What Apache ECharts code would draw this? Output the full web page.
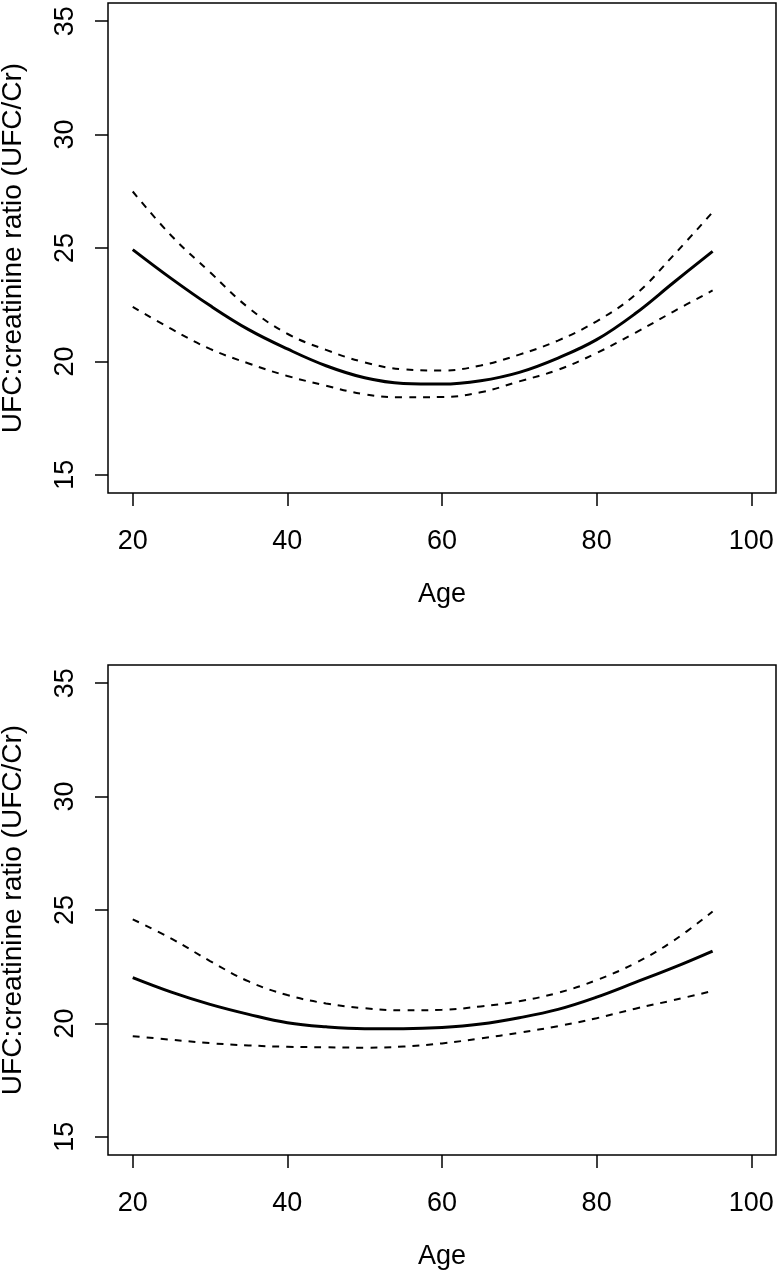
<!DOCTYPE html>
<html>
<head>
<meta charset="utf-8">
<script src="https://cdn.jsdelivr.net/npm/echarts@6/dist/echarts.min.js"></script>
<style>
html,body{margin:0;padding:0;background:#fff;}
#chart{width:780px;height:1273px;}
</style>
</head>
<body>
<div id="chart"></div>
<script>
// Data
const ages = [20,25,30,35,40,45,50,55,60,65,70,75,80,85,90,95];

const topFit   = [24.93,23.65,22.46,21.40,20.55,19.81,19.28,19.03,19.00,19.15,19.52,20.15,20.96,22.11,23.49,24.85];
const topUpper = [27.49,25.54,23.93,22.36,21.22,20.51,19.96,19.65,19.60,19.82,20.30,20.92,21.77,22.94,24.70,26.58];
const topLower = [22.40,21.43,20.55,19.91,19.36,18.93,18.55,18.42,18.43,18.64,19.12,19.63,20.37,21.26,22.21,23.13];

const botFit   = [22.02,21.38,20.84,20.40,20.03,19.85,19.77,19.77,19.82,19.97,20.25,20.62,21.16,21.81,22.47,23.19];
const botUpper = [24.59,23.74,22.75,21.85,21.25,20.88,20.67,20.58,20.60,20.75,20.98,21.35,21.91,22.66,23.66,24.93];
const botLower = [19.44,19.28,19.13,19.03,18.97,18.95,18.93,18.98,19.12,19.34,19.59,19.88,20.23,20.65,21.03,21.43];

const xTicks = [20,40,60,80,100];
const yTicks = [15,20,25,30,35];
const xTitle = 'Age';
const yTitle = 'UFC:creatinine ratio (UFC/Cr)';

const FONT = "'Liberation Sans', Arial, Helvetica, sans-serif";
const FS = 27;

function pairs(xs, ys){ return xs.map((x,i)=>[x, ys[i]]); }

function xAxisDef(gi){
  return {
    type:'value', gridIndex:gi, min:16.8, max:103.2,
    name:xTitle, nameLocation:'middle', nameGap:88,
    nameTextStyle:{fontFamily:FONT, fontSize:FS, color:'#000'},
    axisLine:{show:false},
    axisTick:{show:true, inside:false, length:13, customValues:xTicks, lineStyle:{color:'#000', width:1.5}},
    axisLabel:{show:true, customValues:xTicks, margin:35, fontFamily:FONT, fontSize:FS, color:'#000'},
    splitLine:{show:false}
  };
}
function yAxisDef(gi){
  return {
    type:'value', gridIndex:gi, min:14.2, max:35.8,
    name:yTitle, nameLocation:'middle', nameGap:81, nameRotate:90,
    nameTextStyle:{fontFamily:FONT, fontSize:28, color:'#000'},
    axisLine:{show:false},
    axisTick:{show:true, inside:false, length:13, customValues:yTicks, lineStyle:{color:'#000', width:1.5}},
    axisLabel:{show:true, customValues:yTicks, rotate:90, margin:29, fontFamily:FONT, fontSize:FS, color:'#000'},
    splitLine:{show:false}
  };
}
function lineSeries(gi, ys, dashed){
  return {
    type:'line', xAxisIndex:gi, yAxisIndex:gi,
    data:pairs(ages, ys), showSymbol:false, smooth:0.4, silent:true,
    lineStyle:{color:'#000', width: dashed ? 2 : 3, type: dashed ? [7,7] : 'solid'}
  };
}

const chart = echarts.init(document.getElementById('chart'), null, {renderer:'canvas'});
chart.setOption({
  animation:false,
  backgroundColor:'#fff',
  grid:[
    {left:108, top:3, width:668, height:490, show:true, borderColor:'#000', borderWidth:1.5, backgroundColor:'transparent', containLabel:false, outerBoundsMode:'none'},
    {left:108, top:665, width:668, height:490, show:true, borderColor:'#000', borderWidth:1.5, backgroundColor:'transparent', containLabel:false, outerBoundsMode:'none'}
  ],
  xAxis:[xAxisDef(0), xAxisDef(1)],
  yAxis:[yAxisDef(0), yAxisDef(1)],
  series:[
    lineSeries(0, topFit, false),
    lineSeries(0, topUpper, true),
    lineSeries(0, topLower, true),
    lineSeries(1, botFit, false),
    lineSeries(1, botUpper, true),
    lineSeries(1, botLower, true)
  ]
});
</script>
</body>
</html>
